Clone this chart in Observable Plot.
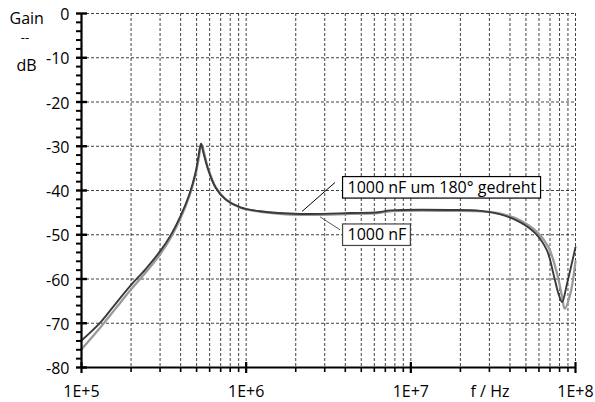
<!DOCTYPE html>
<html><head><meta charset="utf-8">
<script src="https://cdn.jsdelivr.net/npm/d3@7"></script>
<script src="https://cdn.jsdelivr.net/npm/@observablehq/plot@0.6"></script>
<style>html,body{margin:0;padding:0;background:#fff} svg{display:block}</style>
</head><body>
<script>
// Series "1000 nF um 180° gedreht" (dark)
const freqA = [1e5, 1.304e5, 1.609e5, 1.984e5, 2.446e5, 3.018e5, 3.471e5, 3.992e5, 4.526e5, 4.923e5, 5.134e5, 5.317e5, 5.505e5, 5.82e5, 6.51e5, 7.49e5, 9.23e5, 1.22e6, 2.14e6, 4.3e6, 6.35e6, 7.52e6, 1.74e7, 2.65e7, 3.5e7, 4.63e7, 5.71e7, 6.72e7, 7.34e7, 7.88e7, 8.29e7, 8.89e7, 1e8];
const gainA = [-73.9, -69.8, -65.6, -61.5, -57.8, -53.6, -50.2, -45.8, -40.8, -36, -32.3, -29.4, -31.5, -34.8, -39.3, -42, -43.8, -44.7, -45.3, -45.1, -44.9, -44.5, -44.4, -44.6, -45.4, -47.2, -49.7, -53.6, -58.8, -63.3, -65.2, -61, -52.8];
// Series "1000 nF" (light)
const freqB = [1e5, 1.304e5, 1.609e5, 1.984e5, 2.446e5, 3.018e5, 3.471e5, 3.992e5, 4.526e5, 4.923e5, 5.134e5, 5.354e5, 5.55e5, 5.85e5, 6.55e5, 7.5e5, 9.23e5, 1.22e6, 2.14e6, 4.3e6, 6.35e6, 7.52e6, 1.74e7, 2.65e7, 3.5e7, 4.63e7, 5.85e7, 6.85e7, 7.73e7, 8.29e7, 8.6e7, 9.31e7, 1e8];
const gainB = [-75.9, -70.9, -66.7, -62.5, -58.6, -54.3, -50.8, -46.3, -41.2, -36.5, -33, -29.5, -31.5, -34.8, -39.3, -42, -43.9, -44.8, -45.5, -45.3, -45.1, -44.7, -44.6, -44.7, -45.2, -46.8, -49.4, -52.8, -58.8, -64, -66.7, -63.3, -56];

const decades = [1e5, 1e6, 1e7, 1e8];
const decadeLabels = ["1E+5", "1E+6", "1E+7", "1E+8"];
const xMinor = [2e5,3e5,4e5,5e5,6e5,7e5,8e5,9e5, 2e6,3e6,4e6,5e6,6e6,7e6,8e6,9e6, 2e7,3e7,4e7,5e7,6e7,7e7,8e7,9e7];
const yMajor = [0, -10, -20, -30, -40, -50, -60, -70, -80];
const yMinor = [-2,-4,-6,-8,-12,-14,-16,-18,-22,-24,-26,-28,-32,-34,-36,-38,-42,-44,-46,-48,-52,-54,-56,-58,-62,-64,-66,-68,-72,-74,-76,-78];
const yTitle = ["Gain", "--", "dB"];
const xTitle = "f / Hz";
const annotations = [
  {label: "1000 nF um 180° gedreht", f: 2.2e6, gain: -45.3},
  {label: "1000 nF", f: 2.83e6, gain: -45.5}
];

const seriesA = freqA.map((f, i) => ({f, gain: gainA[i]}));
const seriesB = freqB.map((f, i) => ({f, gain: gainB[i]}));

const W = 595, H = 402, ML = 81, MR = 20, MT = 13, MB = 35;
const FONT = "'Open Sans', 'DejaVu Sans', sans-serif";
const dash = {stroke: "#111", strokeOpacity: 1, strokeWidth: 0.8, strokeDasharray: "3,2"};
const blank = () => "";
// pixel offsets for annotation pieces: leader start/end and text anchor
const annoStyle = [
  {sx: 0, sy: -2, ex: 33, ey: -31, tx: 45, ty: -26},
  {sx: 0, sy: 2.5, ex: 20, ey: 15.5, tx: 27, ty: 20.5}
];

const plot = Plot.plot({
  width: W, height: H,
  marginLeft: ML, marginRight: MR, marginTop: MT, marginBottom: MB,
  style: {fontFamily: FONT, fontSize: "16px", color: "#000", background: "#fff", overflow: "visible"},
  x: {type: "log", domain: [decades[0], decades[3]], label: null},
  y: {domain: [yMajor[8], yMajor[0]], label: null},
  marks: [
    Plot.gridX([...xMinor, ...decades.slice(1)], dash),
    Plot.gridY(yMajor.slice(0, 8), dash),
    Plot.line(seriesB, {x: "f", y: "gain", stroke: "#9a9a9a", strokeWidth: 2.3, curve: "catmull-rom"}),
    Plot.line(seriesA, {x: "f", y: "gain", stroke: "#3a3a3a", strokeWidth: 1.9, curve: "catmull-rom"}),
    Plot.ruleX([decades[0]], {stroke: "#000", strokeWidth: 2.2}),
    Plot.ruleY([yMajor[8]], {stroke: "#000", strokeWidth: 2.2}),
    // y axis
    Plot.axisY(yMajor, {anchor: "left", tickSize: 0, tickPadding: 12, dy: 1.5, label: null, tickFormat: d => String(d), fontSize: 16}),
    Plot.axisY(yMajor, {anchor: "left", tickSize: 5, tickFormat: blank, label: null, strokeWidth: 2.4}),
    Plot.axisY(yMajor, {anchor: "left", tickSize: -6, tickFormat: blank, label: null, strokeWidth: 2.4}),
    Plot.axisY(yMinor, {anchor: "left", tickSize: 5, tickFormat: blank, label: null, strokeWidth: 2}),
    // x axis
    Plot.axisX(decades, {anchor: "bottom", tickSize: 0, tickPadding: 18, label: null, tickFormat: d => decadeLabels[decades.indexOf(d)], fontSize: 16}),
    Plot.axisX(decades, {anchor: "bottom", tickSize: 6, tickFormat: blank, label: null, strokeWidth: 2.2}),
    Plot.axisX(decades, {anchor: "bottom", tickSize: -5, tickFormat: blank, label: null, strokeWidth: 2.2}),
    Plot.axisX(xMinor, {anchor: "bottom", tickSize: 5, tickFormat: blank, label: null, strokeWidth: 1.6}),
    // axis titles
    Plot.text([yTitle[0]], {frameAnchor: "top-left", textAnchor: "start", dx: -72, dy: -0.5, fontSize: 16}),
    Plot.text([yTitle[1]], {frameAnchor: "top-left", textAnchor: "middle", dx: -56.5, dy: 19.5, fontSize: 13}),
    Plot.text([yTitle[2]], {frameAnchor: "top-left", textAnchor: "start", dx: -65, dy: 46, fontSize: 16}),
    Plot.text([xTitle], {frameAnchor: "bottom-right", textAnchor: "middle", lineAnchor: "top", dx: -85.5, dy: 18, fontSize: 16}),
    // annotation labels
    ...annotations.map((a, i) => Plot.text([a], {x: "f", y: "gain", text: "label", textAnchor: "start", dx: annoStyle[i].tx, dy: annoStyle[i].ty, fontSize: 16}))
  ]
});
document.body.append(plot);

// boxes and leader lines, positioned through the plot's own scales
const sx = plot.scale("x"), sy = plot.scale("y");
const svg = d3.select(plot);
const texts = svg.selectAll("text").nodes();
annotations.forEach((a, i) => {
  const st = annoStyle[i];
  const px = sx.apply(a.f), py = sy.apply(a.gain);
  svg.append("line")
    .attr("x1", px + st.sx).attr("y1", py + st.sy)
    .attr("x2", px + st.ex).attr("y2", py + st.ey)
    .attr("stroke", i === 0 ? "#000" : "#555").attr("stroke-width", 1);
  const t = texts.find(n => n.textContent === a.label);
  if (t) {
    const b = t.getBBox();
    const r = document.createElementNS("http://www.w3.org/2000/svg", "rect");
    r.setAttribute("x", b.x - 5); r.setAttribute("y", b.y + 0.5);
    r.setAttribute("width", b.width + 9); r.setAttribute("height", b.height - 0.5);
    r.setAttribute("fill", "#fff");
    r.setAttribute("stroke", i === 0 ? "#000" : "#444");
    r.setAttribute("stroke-width", 1.2);
    const tr = t.getAttribute("transform");
    if (tr) r.setAttribute("transform", tr);
    t.parentNode.insertBefore(r, t);
  }
});
</script>
</body></html>
